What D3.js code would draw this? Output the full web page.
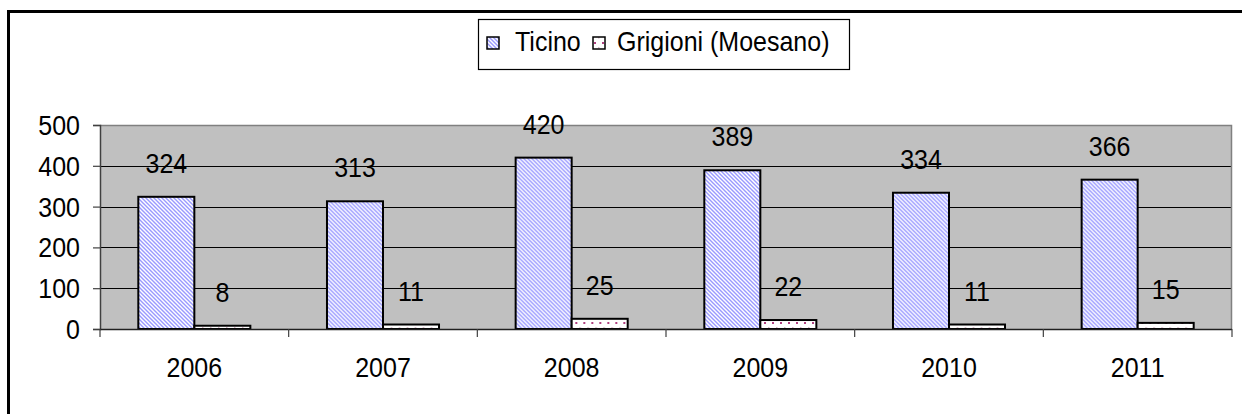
<!DOCTYPE html>
<html>
<head>
<meta charset="utf-8">
<script src="https://cdn.jsdelivr.net/npm/d3@7"></script>
<style>
html,body{margin:0;padding:0;background:#fff;}
svg{display:block;}
text{font-family:"Liberation Sans",Arial,sans-serif;fill:#000;}
</style>
</head>
<body>
<svg id="chart" width="1242" height="414"></svg>
<script>
const years = ["2006","2007","2008","2009","2010","2011"];
const seriesNames = ["Ticino","Grigioni (Moesano)"];
const ticino = [324,313,420,389,334,366];
const grigioni = [8,11,25,22,11,15];
const yTicks = [0,100,200,300,400,500];

const svg = d3.select("#chart");
const plot = {left:100, top:125, right:1232, bottom:329};
const FS = 25, SY = 1.1;

function stretch(sel){
  sel.each(function(){
    const t = d3.select(this);
    const x = +t.attr("x") || 0, yy = +t.attr("y") || 0;
    t.attr("x",0).attr("y",0).attr("transform",`translate(${x},${yy}) scale(1,${SY})`);
  });
}

// defs: patterns
const defs = svg.append("defs");
const p1 = defs.append("pattern").attr("id","pTicino").attr("patternUnits","userSpaceOnUse")
  .attr("width",4).attr("height",4);
p1.append("rect").attr("width",4).attr("height",4).attr("fill","#ffffff");
p1.append("path").attr("d","M-1,-1 L5,5 M-1,3 L1,5 M3,-1 L5,1").attr("stroke","#9999ff").attr("stroke-width",1.4);

const p2 = defs.append("pattern").attr("id","pGrig").attr("patternUnits","userSpaceOnUse")
  .attr("width",8).attr("height",10);
p2.append("rect").attr("width",8).attr("height",10).attr("fill","#ffffff");
p2.append("rect").attr("x",2).attr("y",2).attr("width",2).attr("height",2).attr("fill","#b04080");
p2.append("rect").attr("x",6).attr("y",7).attr("width",1.5).attr("height",1.5).attr("fill","#d8b8c8");

// outer border (right/bottom off-frame)
svg.append("rect").attr("x",8.5).attr("y",11.5).attr("width",1300).attr("height",500)
  .attr("fill","none").attr("stroke","#000").attr("stroke-width",3);

// scales
const x0 = d3.scaleBand().domain(years).range([plot.left, plot.right]).padding(0);
const x1 = d3.scaleBand().domain(seriesNames).range([0, x0.bandwidth()]).paddingInner(0).paddingOuter(0.684);
const y = d3.scaleLinear().domain([0,500]).range([plot.bottom, plot.top]);

// plot background
svg.append("rect").attr("x",plot.left).attr("y",plot.top)
  .attr("width",plot.right-plot.left).attr("height",plot.bottom-plot.top)
  .attr("fill","#c0c0c0");

// gridlines
svg.append("g").selectAll("line").data(yTicks.filter(d=>d>0 && d<500)).join("line")
  .attr("x1",plot.left).attr("x2",plot.right)
  .attr("y1",d=>Math.round(y(d))+0.5).attr("y2",d=>Math.round(y(d))+0.5)
  .attr("stroke","#000").attr("stroke-width",1);

// plot border top/right gray
svg.append("path")
  .attr("d",`M${plot.left},${plot.top+0.5} H${plot.right-0.5} V${plot.bottom}`)
  .attr("fill","none").attr("stroke","#808080").attr("stroke-width",1.5);

// bars
const data = years.map((yr,i)=>({year:yr, vals:[
  {s:seriesNames[0], v:ticino[i], fill:"url(#pTicino)"},
  {s:seriesNames[1], v:grigioni[i], fill:"url(#pGrig)"}]}));

const groups = svg.append("g").selectAll("g").data(data).join("g")
  .attr("transform",d=>`translate(${x0(d.year)},0)`);
groups.selectAll("rect").data(d=>d.vals).join("rect")
  .attr("x",d=>x1(d.s)).attr("y",d=>y(d.v))
  .attr("width",x1.bandwidth()).attr("height",d=>y(0)-y(d.v))
  .attr("fill",d=>d.fill).attr("stroke","#000").attr("stroke-width",2);
groups.selectAll("text").data(d=>d.vals).join("text")
  .attr("x",d=>x1(d.s)+x1.bandwidth()/2).attr("y",d=>y(d.v)-24)
  .attr("text-anchor","middle").attr("font-size",FS)
  .text(d=>d.v).call(stretch);

// y axis
const yAxis = d3.axisLeft(y).tickValues(yTicks).tickSize(7).tickPadding(13);
const gy = svg.append("g").attr("transform",`translate(${plot.left},0)`).call(yAxis);
gy.select(".domain").attr("stroke","#404040").attr("stroke-width",1.5);
gy.selectAll(".tick line").attr("stroke","#404040").attr("stroke-width",1.2);
gy.selectAll("text").attr("font-size",FS).attr("font-family","Liberation Sans, Arial, sans-serif")
  .attr("fill","#000").attr("dy",null).attr("y",9.5).call(stretch);

// x axis
const gx = svg.append("g").attr("transform",`translate(0,${plot.bottom})`);
gx.append("line").attr("x1",plot.left).attr("x2",plot.right).attr("y1",0.5).attr("y2",0.5)
  .attr("stroke","#202020").attr("stroke-width",1.5);
const bounds = years.map(d=>x0(d)).concat([plot.right]);
gx.selectAll("line.tk").data(bounds).join("line").attr("class","tk")
  .attr("x1",d=>d).attr("x2",d=>d).attr("y1",0).attr("y2",8)
  .attr("stroke","#404040").attr("stroke-width",1.2);
gx.selectAll("text").data(years).join("text")
  .attr("x",d=>x0(d)+x0.bandwidth()/2).attr("y",48)
  .attr("text-anchor","middle").attr("font-size",FS).text(d=>d).call(stretch);

// legend
const lg = svg.append("g");
lg.append("rect").attr("x",478.5).attr("y",19.5).attr("width",371).attr("height",50)
  .attr("fill","#fff").attr("stroke","#000").attr("stroke-width",1.2);
const legendItems = [
  {name:seriesNames[0], fill:"url(#pTicino)", sx:487, tx:515},
  {name:seriesNames[1], fill:"url(#pGrig)", sx:593, tx:617}
];
legendItems.forEach(it=>{
  lg.append("rect").attr("x",it.sx).attr("y",37).attr("width",12).attr("height",12)
    .attr("fill",it.fill).attr("stroke","#000").attr("stroke-width",1.5);
  lg.append("text").attr("x",it.tx).attr("y",51).attr("font-size",FS).text(it.name).call(stretch);
});
</script>
</body>
</html>
